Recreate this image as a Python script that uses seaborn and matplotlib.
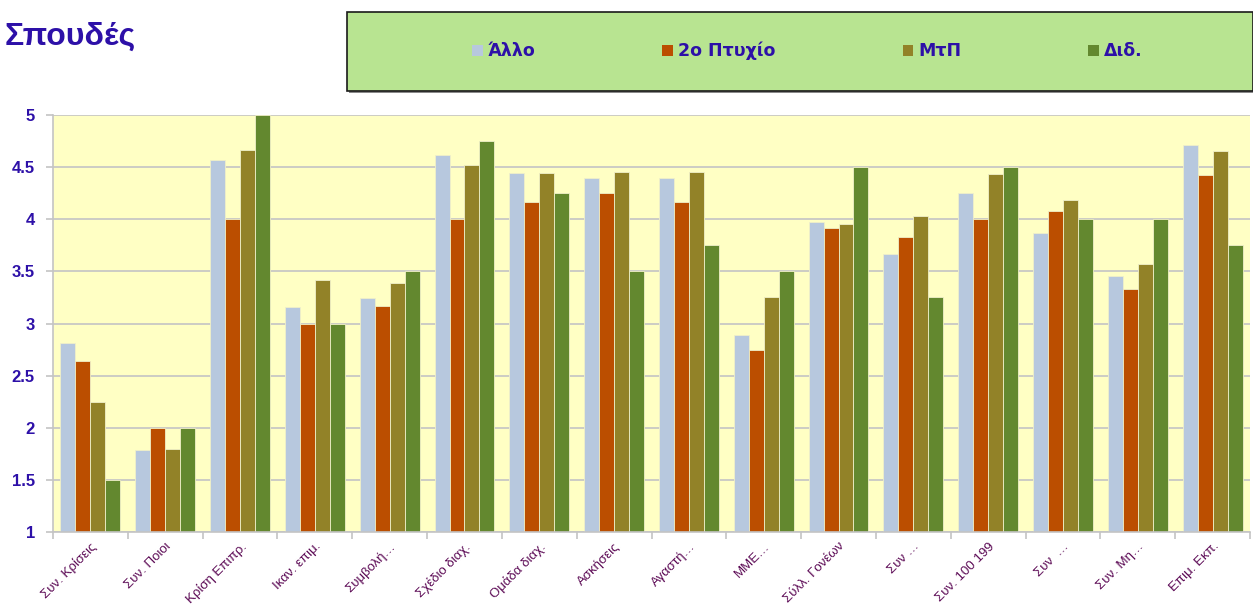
import matplotlib
matplotlib.use("Agg")
import matplotlib.pyplot as plt
import seaborn as sns
import pandas as pd
import numpy as np
from matplotlib.patches import Rectangle

categories = ["Συν. Κρίσεις", "Συν. Ποιοι", "Κρίση Επιπρ.", "Ικαν. επιμ.", "Συμβολή…",
              "Σχέδιο διαχ.", "Ομάδα διαχ.", "Ασκήσεις", "Αγαστή…", "ΜΜΕ…",
              "Σύλλ. Γονέων", "Συν …", "Συν. 100 199", "Συν  …", "Συν. Μη…", "Επιμ. Εκπ."]
series = ["Άλλο", "2ο Πτυχίο", "ΜτΠ", "Διδ."]
allo =    [2.81, 1.79, 4.57, 3.16, 3.24, 4.62, 4.44, 4.40, 4.40, 2.89, 3.97, 3.67, 4.25, 3.87, 3.46, 4.71]
ptyxio2 = [2.64, 2.00, 4.00, 3.00, 3.17, 4.00, 4.17, 4.25, 4.17, 2.75, 3.92, 3.83, 4.00, 4.08, 3.33, 4.42]
mtp =     [2.25, 1.80, 4.66, 3.42, 3.39, 4.52, 4.44, 4.45, 4.45, 3.25, 3.95, 4.03, 4.43, 4.18, 3.57, 4.65]
did =     [1.50, 2.00, 5.00, 3.00, 3.50, 4.75, 4.25, 3.50, 3.75, 3.50, 4.50, 3.25, 4.50, 4.00, 4.00, 3.75]
yticks = [1, 1.5, 2, 2.5, 3, 3.5, 4, 4.5, 5]

colors = ["#b7c8de", "#bb4e00", "#928228", "#63882f"]

rows = []
for s, vals in zip(series, [allo, ptyxio2, mtp, did]):
    for c, v in zip(categories, vals):
        rows.append({"cat": c, "series": s, "value": v})
df = pd.DataFrame(rows)

sns.set_theme(style="white")
plt.rcParams['font.family'] = ['Liberation Sans', 'DejaVu Sans']

fig = plt.figure(figsize=(12.53, 6.09), dpi=100)
ax = fig.add_axes([53/1253, 1-532/609, (1250-53)/1253, (532-115)/609])

sns.barplot(data=df, x="cat", y="value", hue="series", palette=colors, saturation=1,
            order=categories, hue_order=series, width=0.8, ax=ax,
            edgecolor="#f0f0c8", linewidth=0.6, errorbar=None, legend=True)

ax.set_facecolor("#ffffc4")
ax.set_ylim(1, 5)
ax.set_xlim(-0.5, len(categories) - 0.5)
ax.set_yticks(yticks)
ax.set_yticklabels([f"{t:g}" for t in yticks], color="#2d10a8", fontsize=12, fontweight="bold")
ax.yaxis.grid(True, color="#c4c4c4", linewidth=1.2)
ax.set_axisbelow(True)
ax.set_xlabel("")
ax.set_ylabel("")
for side in ["top", "right"]:
    ax.spines[side].set_visible(False)
for side in ["left", "bottom"]:
    ax.spines[side].set_color("#c4c4c4")
    ax.spines[side].set_linewidth(1.2)

ax.tick_params(axis="y", which="major", left=True, length=5, color="#c4c4c4", width=1.2, pad=8)
ax.set_xticks(range(len(categories)))
ax.set_xticklabels(categories, rotation=45, ha="right", rotation_mode="anchor",
                   color="#5c0a55", fontsize=9.5)
ax.tick_params(axis="x", which="major", bottom=False, length=0, pad=6)
ax.set_xticks(np.arange(-0.5, len(categories), 1), minor=True)
ax.tick_params(axis="x", which="minor", bottom=True, length=5, color="#c4c4c4", width=1.2)

handles, labels = ax.get_legend_handles_labels()
ax.get_legend().remove()

# legend box
shadow = Rectangle((349/1253, 1-93/609), (1253-349)/1253, (93-12)/609,
                   transform=fig.transFigure, facecolor="#8a8a8a", edgecolor="none", zorder=0)
fig.patches.append(shadow)
box = Rectangle((347/1253, 1-91/609), (1253-347)/1253, (91-12)/609,
                transform=fig.transFigure, facecolor="#b8e491", edgecolor="#1a1a1a",
                linewidth=1.2, zorder=1)
fig.patches.append(box)

leg = fig.legend(handles, labels, loc="center left", bbox_to_anchor=(472/1253, 1-51/609),
                 ncol=4, frameon=False, handlelength=0.62, handleheight=0.62,
                 handletextpad=0.3, columnspacing=7.3,
                 prop={"family": ['DejaVu Sans'], "weight": "bold", "size": 12.5},
                 borderpad=0, borderaxespad=0)
for t in leg.get_texts():
    t.set_color("#2d10a8")
for h in leg.legend_handles:
    h.set_edgecolor("none")

fig.text(5/1253, 1-37/609, "Σπουδές", color="#2d10a8", fontsize=23, fontweight="bold",
         va="center", ha="left")

fig.savefig("out.png", dpi=100)
